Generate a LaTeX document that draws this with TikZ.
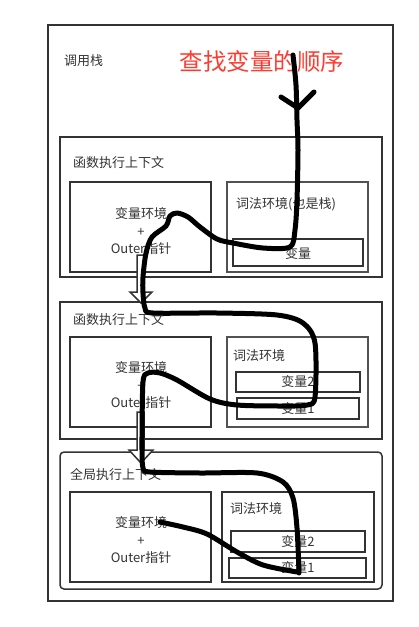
\documentclass[tikz,border=0pt]{standalone}
\usepackage{fontspec}
\setmainfont{Noto Sans CJK SC}
\definecolor{Frame}{HTML}{333333}
\definecolor{Title}{HTML}{FF3B30}
\tikzset{
  box/.style={draw=Frame, line width=1.5},
  lbl/.style={anchor=west, inner sep=0, text=Frame, font=\fontsize{13}{15}\selectfont},
  envtxt/.style={align=center, inner sep=0, text=Frame, font=\fontsize{13}{17.5}\selectfont},
  vartxt/.style={inner sep=0, text=Frame, font=\fontsize{13}{15}\selectfont},
  blockarrow/.style={draw=Frame, fill=white, line width=1.5, line join=miter},
  path/.style={line width=5, line cap=round, line join=round},
}
\begin{document}
\begin{tikzpicture}[x=1pt, y=-1pt]
 \useasboundingbox (0,0) rectangle (419,627);

 %%%%%%%%%% Call stack %%%%%%%%%%
 \draw [box] (48,25) rectangle (393,601);
 \node [lbl] (stack) at (64,61) {调用栈};
 \node [inner sep=0, text=Title, font=\fontsize{23.5}{28}\selectfont] (title) at (262,62) {查找变量的顺序};

 %%%%%%%%%% Function context 1 %%%%%%%%%%
 \draw [box] (60,137) rectangle (382,277);
 \node [lbl] (fn1) at (73,163) {函数执行上下文};
 \draw [box] (70,182) rectangle (211,272);
 \node [envtxt] (env1) at (141,231) {变量环境\\+\\Outer指针};
 \draw [box, draw=Frame!85] (227,182) rectangle (368,272);
 \node [lbl] (lex1) at (236,204) {词法环境(也是栈)};
 \draw [box] (233,239) rectangle (363,266);
 \node [vartxt] (v1) at (298,254) {变量};

 %%%%%%%%%% Function context 2 %%%%%%%%%%
 \draw [box] (60,302) rectangle (382,439);
 \node [lbl] (fn2) at (73,320) {函数执行上下文};
 \draw [box] (70,337) rectangle (211,427);
 \node [envtxt] (env2) at (141,385) {变量环境\\+\\Outer指针};
 \draw [box, draw=Frame!85] (227,337) rectangle (368,427);
 \node [lbl] (lex2) at (233,356) {词法环境};
 \draw [box] (236,372) rectangle (360,392);
 \node [vartxt] (v22) at (298,382) {变量2};
 \draw [box] (237,398) rectangle (359,419);
 \node [vartxt] (v21) at (298,409) {变量1};

 %%%%%%%%%% Global context %%%%%%%%%%
 \draw [box, rounded corners=4] (60,452) rectangle (382,589);
 \node [lbl] (gl) at (70,475) {全局执行上下文};
 \draw [box] (70,492) rectangle (211,582);
 \node [envtxt] (env3) at (141,540) {变量环境\\+\\Outer指针};
 \draw [box] (222,492) rectangle (374,582);
 \node [lbl] (lex3) at (230,509) {词法环境};
 \draw [box] (231,531) rectangle (365,552);
 \node [vartxt] (v32) at (298,542) {变量2};
 \draw [box] (229,558) rectangle (366,578);
 \node [vartxt] (v31) at (298,568) {变量1};

 %%%%%%%%%% Outer arrows %%%%%%%%%%
 \draw [blockarrow] (137,255) -- (144,255) -- (144,292) -- (152,292) -- (141,303)
   -- (130,292) -- (137,292) -- cycle;
 \draw [blockarrow] (137,412) -- (144,412) -- (144,450) -- (153,450) -- (141,463)
   -- (129,450) -- (137,450) -- cycle;

 %%%%%%%%%% Search order %%%%%%%%%%
 \draw [path] plot [smooth, tension=0.5] coordinates {
   (293,55) (296,85) (297,120) (298,150) (297,200) (295,230) (290,247)
   (263,248) (233,243) (217,239) (200,227) (188,217) (177,213) (170,216)
   (166,226) (152,237) (146,253) (143,277) (143,293) (145,308) (153,313)
   (217,313) (277,315) (303,323) (315,343) (315,397) (307,405) (283,406)
   (237,405) (210,399) (177,380) (160,373) (148,373) (143,382) (142,437)
   (142,450) (143,468) (150,472) (200,473) (257,473) (283,482) (293,498)
   (297,528) (299,573)};
 \draw [path] plot [smooth, tension=0.5] coordinates {
   (160,522) (183,527) (207,534) (237,552) (263,565) (297,572)};
 \draw [path] (281,97) -- (298,108) -- (314,92);

\end{tikzpicture}
\end{document}
